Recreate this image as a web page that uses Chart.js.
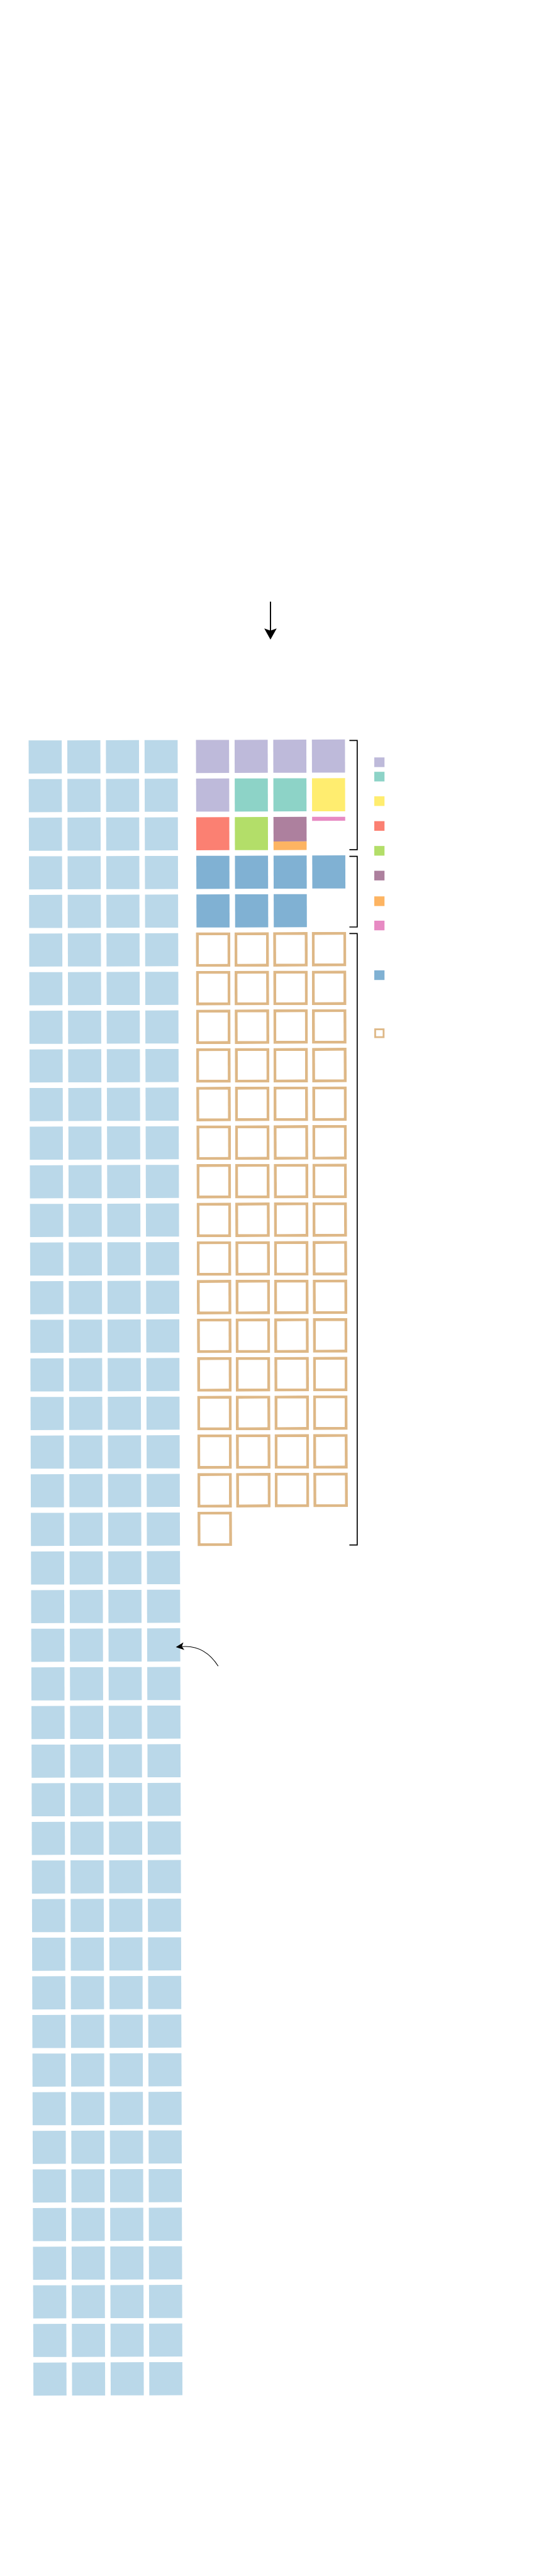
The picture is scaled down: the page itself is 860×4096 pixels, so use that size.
<!DOCTYPE html>
<html>
<head>
<meta charset="utf-8">
<script src="https://cdn.jsdelivr.net/npm/chart.js@4.4.1/dist/chart.umd.min.js"></script>
<style>
  html, body { margin: 0; padding: 0; background: #ffffff; }
  canvas { display: block; }
</style>
</head>
<body>
<canvas id="c" width="860" height="4096"></canvas>
<script>
// ---------------- DATA ----------------
const columnsPerRow = 4;

const leftSeries = ['Left block'];
const leftValues = [172];

const groupASeries = ['A1', 'A2', 'A3', 'A4', 'A5', 'A6', 'A7', 'A8'];
const groupAValues = [5, 2, 1, 1, 1, 0.74, 0.26, 0.12];

const groupBSeries = ['B1'];
const groupBValues = [7];

const groupCSeries = ['C1'];
const groupCValues = [61];

// ---------------- STYLE ----------------
const leftColors   = ['#bad8e9'];
const groupAColors = ['#bebada', '#8dd3c7', '#ffed6f', '#fb8072', '#b3de69', '#ad809e', '#fdb462', '#e78ac3'];
const groupBColors = ['#80b1d3'];
const groupCColors = ['#deb887'];

// ---------------- LAYOUT (grid units: 1 unit = one cell pitch) ----------------
const S = 860 / 1200;               // drawing scale
const CELL = 0.8565;                // cell size relative to pitch
const RIGHT_OFFSET = 4.331;         // first column of the right grid
const X_RANGE = [-1.1692, 12.833];
const Y_RANGE = [-19.172, 47.526];
const OUTLINE_PAD = 0.0175;
const OUTLINE_WIDTH = 6.5;
const TILT_X = 0.0029, TILT_Y = -0.003;
const BRACKET_X = 8.076, BRACKET_TICK_X = 7.874, BRACKET_END = 0.83;
const LEGEND_X = 8.650, LEGEND_W = 22.7, LEGEND_H = 21.4;
const LEGEND_ROWS = [0.564, 0.936, 1.571, 2.214, 2.857, 3.499, 4.162, 4.791, 6.077, 7.580];
const TOP_ARROW = { x: RIGHT_OFFSET + 1.5, y0: -3.594, y1: -2.610 };
const CURVE_ARROW = { sx: 4.478, sy: 23.967, cx: 4.105, cy: 23.384, ex: 3.382, ey: 23.477 };

// ---------------- BUILD WAFFLE CELLS ----------------
function waffle(values, colOffset, startRow, pad) {
  const out = [];
  let cum = 0;
  values.forEach(v => {
    const pts = [];
    let rem = v;
    while (rem > 1e-6) {
      const cell = Math.floor(cum + 1e-6);
      const f0 = Math.max(0, cum - cell);
      const take = Math.min(rem, 1 - f0);
      const row = startRow + Math.floor(cell / columnsPerRow);
      const col = cell % columnsPerRow;
      pts.push({ x: colOffset + col, y: [row + f0 * CELL - pad, row + (f0 + take) * CELL + pad] });
      cum += take;
      rem -= take;
    }
    out.push(pts);
  });
  return { cells: out, rows: Math.ceil((cum - 1e-6) / columnsPerRow) };
}

const datasets = [];
const groups = [];
const legendItems = [];

const left = waffle(leftValues, 0, 0, 0);
left.cells.forEach((pts, i) => datasets.push({
  label: leftSeries[i], data: pts, backgroundColor: leftColors[i]
}));

let row = 0;
[
  { values: groupAValues, names: groupASeries, colors: groupAColors, outline: false },
  { values: groupBValues, names: groupBSeries, colors: groupBColors, outline: false },
  { values: groupCValues, names: groupCSeries, colors: groupCColors, outline: true }
].forEach(g => {
  const w = waffle(g.values, RIGHT_OFFSET, row, g.outline ? OUTLINE_PAD : 0);
  w.cells.forEach((pts, i) => {
    const ds = { label: g.names[i], data: pts, backgroundColor: g.colors[i] };
    if (g.outline) {
      Object.assign(ds, {
        backgroundColor: '#ffffff', borderColor: g.colors[i], borderWidth: OUTLINE_WIDTH * S,
        borderSkipped: false, barPercentage: CELL + 2 * OUTLINE_PAD, inflateAmount: 0
      });
    }
    datasets.push(ds);
    legendItems.push({ color: g.colors[i], outline: g.outline });
  });
  groups.push({ start: row, rows: w.rows });
  row += w.rows;
});

// ---------------- OVERLAY PLUGIN ----------------
function arrowHead(ctx, tx, ty, dx, dy, len, half, notch) {
  const n = Math.hypot(dx, dy); dx /= n; dy /= n;
  const px = -dy, py = dx;
  const bx = tx - dx * len, by = ty - dy * len;
  ctx.beginPath();
  ctx.moveTo(tx, ty);
  ctx.lineTo(bx + px * half, by + py * half);
  ctx.lineTo(tx - dx * len * (1 - notch), ty - dy * len * (1 - notch));
  ctx.lineTo(bx - px * half, by - py * half);
  ctx.closePath();
  ctx.fill();
}

const overlay = {
  id: 'overlay',
  beforeDatasetsDraw(chart) {
    const { ctx, scales: { x, y } } = chart;
    const px = x.getPixelForValue(-CELL / 2), py = y.getPixelForValue(0);
    ctx.save();
    ctx.translate(px, py);
    ctx.transform(1, TILT_Y, TILT_X, 1, 0, 0);
    ctx.translate(-px, -py);
  },
  afterDatasetsDraw(chart) {
    chart.ctx.restore();
  },
  afterDraw(chart) {
    const { ctx, scales: { x, y } } = chart;
    ctx.save();
    // brackets
    ctx.strokeStyle = '#000000';
    ctx.lineWidth = 2.4 * S;
    ctx.lineJoin = 'miter';
    groups.forEach(g => {
      const top = y.getPixelForValue(g.start);
      const bot = y.getPixelForValue(g.start + g.rows - 1 + BRACKET_END);
      const xv = x.getPixelForValue(BRACKET_X), xt = x.getPixelForValue(BRACKET_TICK_X);
      ctx.beginPath();
      ctx.moveTo(xt, top); ctx.lineTo(xv, top); ctx.lineTo(xv, bot); ctx.lineTo(xt, bot);
      ctx.stroke();
    });
    // legend markers
    legendItems.forEach((it, i) => {
      const cx = x.getPixelForValue(LEGEND_X), cy = y.getPixelForValue(LEGEND_ROWS[i]);
      const w = LEGEND_W * S, h = LEGEND_H * S;
      if (it.outline) {
        const lw = 4 * S;
        ctx.fillStyle = it.color;
        ctx.fillRect(cx - w / 2, cy - h / 2, w, h);
        ctx.fillStyle = '#ffffff';
        ctx.fillRect(cx - w / 2 + lw, cy - h / 2 + lw, w - 2 * lw, h - 2 * lw);
      } else {
        ctx.fillStyle = it.color;
        ctx.fillRect(cx - w / 2, cy - h / 2, w, h);
      }
    });
    // top arrow
    ctx.strokeStyle = '#000000';
    ctx.fillStyle = '#000000';
    const ax = x.getPixelForValue(TOP_ARROW.x);
    const ay0 = y.getPixelForValue(TOP_ARROW.y0), ay1 = y.getPixelForValue(TOP_ARROW.y1);
    ctx.lineWidth = 2.7 * S;
    ctx.beginPath(); ctx.moveTo(ax, ay0); ctx.lineTo(ax, ay1 - 18 * S); ctx.stroke();
    arrowHead(ctx, ax, ay1, 0, 1, 25 * S, 13.8 * S, 0.2);
    // curved arrow
    const sx = x.getPixelForValue(CURVE_ARROW.sx), sy = y.getPixelForValue(CURVE_ARROW.sy);
    const qx = x.getPixelForValue(CURVE_ARROW.cx), qy = y.getPixelForValue(CURVE_ARROW.cy);
    const ex = x.getPixelForValue(CURVE_ARROW.ex), ey = y.getPixelForValue(CURVE_ARROW.ey);
    ctx.lineWidth = 1.6 * S;
    ctx.beginPath(); ctx.moveTo(sx, sy); ctx.quadraticCurveTo(qx, qy, ex + 8 * S, ey - 0.5); ctx.stroke();
    arrowHead(ctx, ex, ey, ex - qx, ey - qy, 18 * S, 8.5 * S, 0.25);
    ctx.restore();
  }
};

// ---------------- CHART ----------------
new Chart(document.getElementById('c'), {
  type: 'bar',
  data: { datasets },
  options: {
    responsive: false,
    animation: false,
    devicePixelRatio: 1,
    layout: { padding: 0 },
    datasets: {
      bar: { grouped: false, categoryPercentage: 1, barPercentage: CELL, borderWidth: 0 }
    },
    scales: {
      x: { type: 'linear', display: false, offset: false, min: X_RANGE[0], max: X_RANGE[1],
           ticks: { stepSize: 1000 }, grid: { display: false } },
      y: { type: 'linear', display: false, reverse: true, min: Y_RANGE[0], max: Y_RANGE[1],
           ticks: { stepSize: 1000 }, grid: { display: false } }
    },
    plugins: { legend: { display: false }, tooltip: { enabled: false }, title: { display: false } }
  },
  plugins: [overlay]
});
</script>
</body>
</html>
